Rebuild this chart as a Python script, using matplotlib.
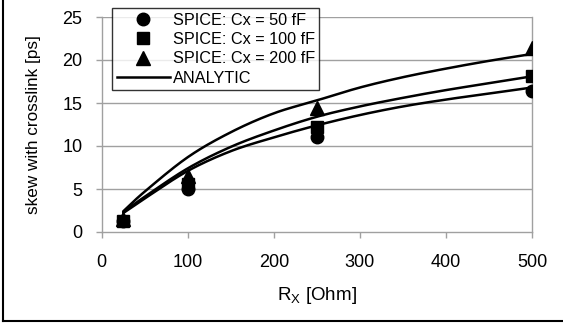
import matplotlib
matplotlib.use("Agg")
import matplotlib.pyplot as plt
from matplotlib.lines import Line2D
import numpy as np

plt.rcParams['font.family'] = ['Liberation Sans', 'DejaVu Sans']
plt.rcParams['mathtext.fontset'] = 'custom'
plt.rcParams['mathtext.rm'] = 'Liberation Sans'
plt.rcParams['mathtext.it'] = 'Liberation Sans'

# SPICE data
rx_spice = [25, 100, 250, 500]
spice_50 = [1.3, 5.0, 11.0, 16.4]
spice_100 = [1.3, 5.6, 12.2, 18.1]
spice_200 = [1.5, 6.5, 14.4, 21.4]

# Analytic curves
rx_analytic = [25, 50, 100, 150, 200, 250, 300, 350, 400, 450, 500]
analytic_50 = [2.2, 3.9, 7.1, 9.4, 11.0, 12.4, 13.6, 14.6, 15.4, 16.1, 16.8]
analytic_100 = [2.3, 4.1, 7.4, 9.9, 11.8, 13.4, 14.6, 15.6, 16.5, 17.3, 18.1]
analytic_200 = [2.4, 4.7, 8.7, 11.6, 13.8, 15.3, 16.8, 18.0, 19.0, 19.9, 20.7]

legend_labels = ["SPICE: Cx = 50 fF", "SPICE: Cx = 100 fF", "SPICE: Cx = 200 fF", "ANALYTIC"]
x_ticks = [0, 100, 200, 300, 400, 500]
y_ticks = [0, 5, 10, 15, 20, 25]


def smooth(xs, ys, n=20):
    """Catmull-Rom smoothing for drawing (like a spreadsheet 'smoothed line')."""
    xs = np.asarray(xs, float)
    ys = np.asarray(ys, float)
    px = np.concatenate([[2 * xs[0] - xs[1]], xs, [2 * xs[-1] - xs[-2]]])
    py = np.concatenate([[2 * ys[0] - ys[1]], ys, [2 * ys[-1] - ys[-2]]])
    ox, oy = [], []
    t = np.linspace(0, 1, n, endpoint=False)
    for i in range(1, len(px) - 2):
        for arr, out in ((px, ox), (py, oy)):
            p0, p1, p2, p3 = arr[i - 1], arr[i], arr[i + 1], arr[i + 2]
            out.extend(0.5 * ((2 * p1) + (-p0 + p2) * t
                              + (2 * p0 - 5 * p1 + 4 * p2 - p3) * t ** 2
                              + (-p0 + 3 * p1 - 3 * p2 + p3) * t ** 3))
    ox.append(xs[-1])
    oy.append(ys[-1])
    return ox, oy


W, H = 563, 324
fig = plt.figure(figsize=(W / 100, H / 100), dpi=100)
ax = fig.add_axes([101.7 / W, 1 - 232 / H, (532 - 101.7) / W, (232 - 17) / H])

grey = '#a0a0a0'
for yv in y_ticks[1:]:
    ax.axhline(yv, color=grey, lw=1.0, zorder=0)

for ys in (analytic_50, analytic_100, analytic_200):
    sx, sy = smooth(rx_analytic, ys)
    ax.plot(sx, sy, color='black', lw=1.8, zorder=2, solid_capstyle='round')

ax.plot(rx_spice, spice_50, 'o', color='black', ms=9, zorder=3)
ax.plot(rx_spice, spice_100, 's', color='black', ms=8.5, zorder=3)
ax.plot(rx_spice, spice_200, '^', color='black', ms=9.5, zorder=3)

ax.set_xlim(0, 500)
ax.set_ylim(0, 25)
ax.set_xticks(x_ticks)
ax.set_yticks(y_ticks)
ax.tick_params(axis='both', direction='out', length=4, color=grey, width=1,
               labelsize=13)
ax.tick_params(axis='x', pad=12)
ax.tick_params(axis='y', pad=10)
for s in ('left', 'bottom', 'right'):
    ax.spines[s].set_color(grey)
    ax.spines[s].set_linewidth(1.0)
ax.spines['top'].set_visible(False)
for sp in ax.spines.values():
    sp.set_clip_on(False)

ax.set_ylabel("skew with crosslink [ps]", fontsize=12.3, labelpad=15)
ax.set_xlabel(r"R$_\mathregular{X}$ [Ohm]", fontsize=13.5, labelpad=10)

handles = [
    Line2D([], [], ls='none', marker='o', color='black', ms=9),
    Line2D([], [], ls='none', marker='s', color='black', ms=8.5),
    Line2D([], [], ls='none', marker='^', color='black', ms=9.5),
    Line2D([], [], color='black', lw=1.8),
]
leg = fig.legend(handles, legend_labels, loc='upper left',
                 bbox_to_anchor=(112 / W, 1 - 8 / H), fontsize=11.7,
                 frameon=True, fancybox=False, edgecolor='black',
                 handlelength=3.3, handletextpad=0.15, labelspacing=0.27,
                 borderpad=0.28, borderaxespad=0)
leg.get_frame().set_linewidth(1.0)

# outer border (left and bottom)
fig.add_artist(Line2D([2.5 / W, 2.5 / W], [1 - 321 / H, 1.0], color='black', lw=1.5,
                      transform=fig.transFigure))
fig.add_artist(Line2D([2.5 / W, 1.0], [1 - 321 / H, 1 - 321 / H], color='black', lw=1.5,
                      transform=fig.transFigure))

fig.savefig("out.png", dpi=100)
